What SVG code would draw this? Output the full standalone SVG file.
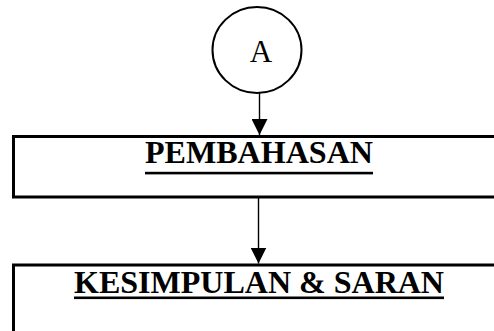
<svg xmlns="http://www.w3.org/2000/svg" width="494" height="331" viewBox="0 0 494 331">
<defs>
<marker id="arr" markerWidth="16" markerHeight="16" refX="16" refY="8" orient="auto" markerUnits="userSpaceOnUse">
<path d="M0,0 L16,8 L0,16 Z" fill="#000"/>
</marker>
<style>
.box{fill:#fff;stroke:#000;stroke-width:3}
.conn{stroke:#000;stroke-width:1.4;fill:none}
.title{font-family:"Liberation Serif","Times New Roman",serif;font-weight:bold;font-size:31px;fill:#000}
.ul{fill:#000}
</style>
</defs>
<rect width="494" height="331" fill="#fff"/>
<g id="nodeA">
<ellipse cx="257" cy="50" rx="44.5" ry="43" fill="#fff" stroke="#000" stroke-width="2"/>
<text x="261" y="62" text-anchor="middle" font-family="Liberation Serif,'Times New Roman',serif" font-size="31" fill="#000">A</text>
</g>
<g id="pembahasan">
<rect class="box" x="13.5" y="136.5" width="500" height="60.5"/>
<text class="title" x="145" y="163" textLength="228" lengthAdjust="spacingAndGlyphs">PEMBAHASAN</text>
<rect class="ul" x="145" y="171.8" width="228" height="2.6"/>
</g>
<g id="kesimpulan">
<rect class="box" x="13.5" y="265" width="500" height="100"/>
<text class="title" x="74" y="293" textLength="370" lengthAdjust="spacingAndGlyphs">KESIMPULAN &amp; SARAN</text>
<rect class="ul" x="74" y="296.5" width="370" height="2.6"/>
</g>
<g id="connectors">
<line class="conn" x1="259.5" y1="93" x2="259.5" y2="135" marker-end="url(#arr)"/>
<line class="conn" x1="258.5" y1="198" x2="258.5" y2="263.5" marker-end="url(#arr)"/>
</g>
</svg>
